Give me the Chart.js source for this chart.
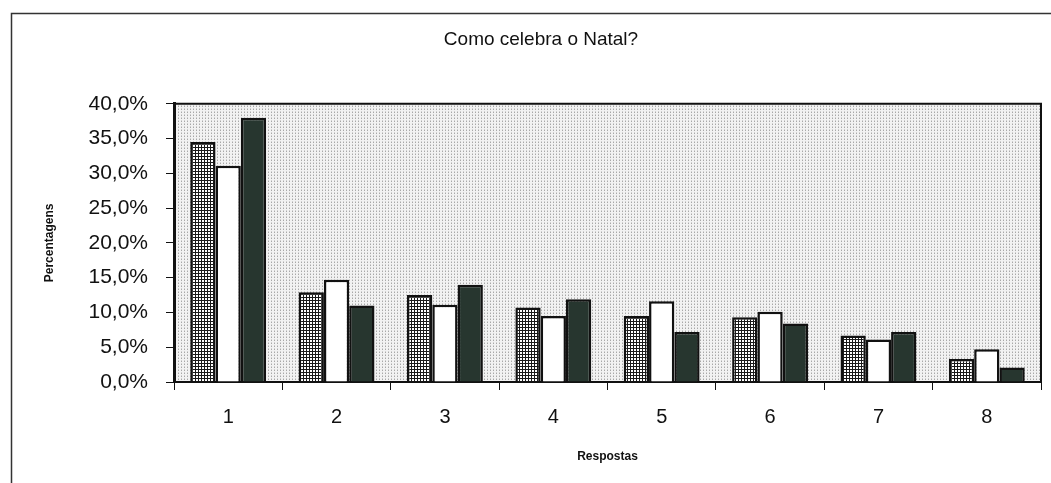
<!DOCTYPE html>
<html lang="pt">
<head>
<meta charset="utf-8">
<title>Como celebra o Natal?</title>
<script src="https://cdn.jsdelivr.net/npm/chart.js@4.4.1/dist/chart.umd.min.js"></script>
<style>
  html, body { margin: 0; padding: 0; background: #fff; }
  #wrap { width: 1051px; height: 483px; }
</style>
</head>
<body>
<div id="wrap"><canvas id="chart" width="1051" height="483"></canvas></div>
<script>
// Como celebra o Natal? - three series per answer

const CATEGORIES = ['1', '2', '3', '4', '5', '6', '7', '8'];
const SERIES_HATCHED = [34.5, 12.9, 12.5, 10.7, 9.5, 9.3, 6.7, 3.3];
const SERIES_WHITE = [31.1, 14.7, 11.1, 9.5, 11.6, 10.1, 6.1, 4.7];
const SERIES_DARK = [38.0, 11.0, 14.0, 11.9, 7.2, 8.4, 7.2, 2.1];
const Y_MIN = 0;
const Y_MAX = 40;
const Y_STEP = 5;

const FONT = "'Liberation Sans', Arial, sans-serif";

const canvas = document.getElementById('chart');
const ctx = canvas.getContext('2d');

function makePattern(w, h, draw) {
  const tile = document.createElement('canvas');
  tile.width = w;
  tile.height = h;
  draw(tile.getContext('2d'));
  return ctx.createPattern(tile, 'repeat');
}

// fine grey dots behind the bars
const dotPattern = makePattern(3, 3, g => {
  g.fillStyle = '#f2f2f2';
  g.fillRect(0, 0, 3, 3);
  g.fillStyle = '#a8a8a8';
  g.fillRect(1, 1, 1, 1);
  g.fillStyle = '#d0d0d0';
  g.fillRect(1, 0, 1, 1);
});

// small black grid for the first series
const gridPattern = makePattern(3, 3, g => {
  g.fillStyle = '#ffffff';
  g.fillRect(0, 0, 3, 3);
  g.fillStyle = '#1a1a1a';
  g.fillRect(0, 0, 3, 1);
  g.fillRect(0, 0, 1, 3);
});

function formatPct(v) {
  return Number(v).toFixed(1).replace('.', ',') + '%';
}

const framePlugin = {
  id: 'frame',
  beforeDraw(chart) {
    const { ctx: c, chartArea: a } = chart;
    c.save();
    c.fillStyle = dotPattern;
    c.fillRect(a.left, a.top, a.right - a.left, a.bottom - a.top);
    c.strokeStyle = '#333';
    c.lineWidth = 1.5;
    c.strokeRect(11.5, 13.5, 1100, 600);
    c.restore();
  },
  afterDraw(chart) {
    const { ctx: c, chartArea: a } = chart;
    c.save();
    c.strokeStyle = '#111';
    c.lineWidth = 2;
    c.beginPath();
    c.moveTo(a.left, a.top);
    c.lineTo(a.right, a.top);
    c.lineTo(a.right, a.bottom);
    c.stroke();
    c.restore();
  }
};

const barDefaults = {
  borderColor: '#111',
  borderWidth: 2.5,
  barPercentage: 1,
  categoryPercentage: 0.7
};

new Chart(ctx, {
  type: 'bar',
  data: {
    labels: CATEGORIES,
    datasets: [
      { label: 'Série 1', data: SERIES_HATCHED, backgroundColor: gridPattern, ...barDefaults },
      { label: 'Série 2', data: SERIES_WHITE, backgroundColor: '#ffffff', ...barDefaults },
      { label: 'Série 3', data: SERIES_DARK, backgroundColor: '#27362f', ...barDefaults }
    ]
  },
  options: {
    responsive: false,
    animation: false,
    layout: { padding: { left: 41, right: 10, top: 0, bottom: 0 } },
    plugins: {
      legend: { display: false },
      tooltip: { enabled: false },
      title: {
        display: true,
        text: 'Como celebra o Natal?',
        color: '#111',
        font: { family: FONT, size: 19, weight: 'normal' },
        padding: { top: 28, bottom: 53 }
      }
    },
    scales: {
      x: {
        afterFit: s => { s.height = 101; },
        grid: { display: true, drawOnChartArea: false, drawTicks: true, tickLength: 8, offset: true, color: '#111' },
        border: { color: '#111', width: 2 },
        ticks: { color: '#111', font: { family: FONT, size: 20 }, padding: 15 },
        title: {
          display: true,
          text: 'Respostas',
          color: '#111',
          font: { family: FONT, size: 12, weight: 'bold' },
          padding: { top: 0, bottom: 19 }
        }
      },
      y: {
        min: Y_MIN,
        max: Y_MAX,
        afterFit: s => { s.width = 133; },
        grid: { display: true, drawOnChartArea: false, drawTicks: true, tickLength: 8, color: '#111' },
        border: { color: '#111', width: 3 },
        ticks: {
          stepSize: Y_STEP,
          color: '#111',
          padding: 18,
          font: { family: FONT, size: 21 },
          callback: v => formatPct(v)
        },
        title: {
          display: true,
          text: 'Percentagens',
          color: '#111',
          font: { family: FONT, size: 12, weight: 'bold' },
          padding: { top: 1, bottom: 0 }
        }
      }
    }
  },
  plugins: [framePlugin]
});
</script>
</body>
</html>
